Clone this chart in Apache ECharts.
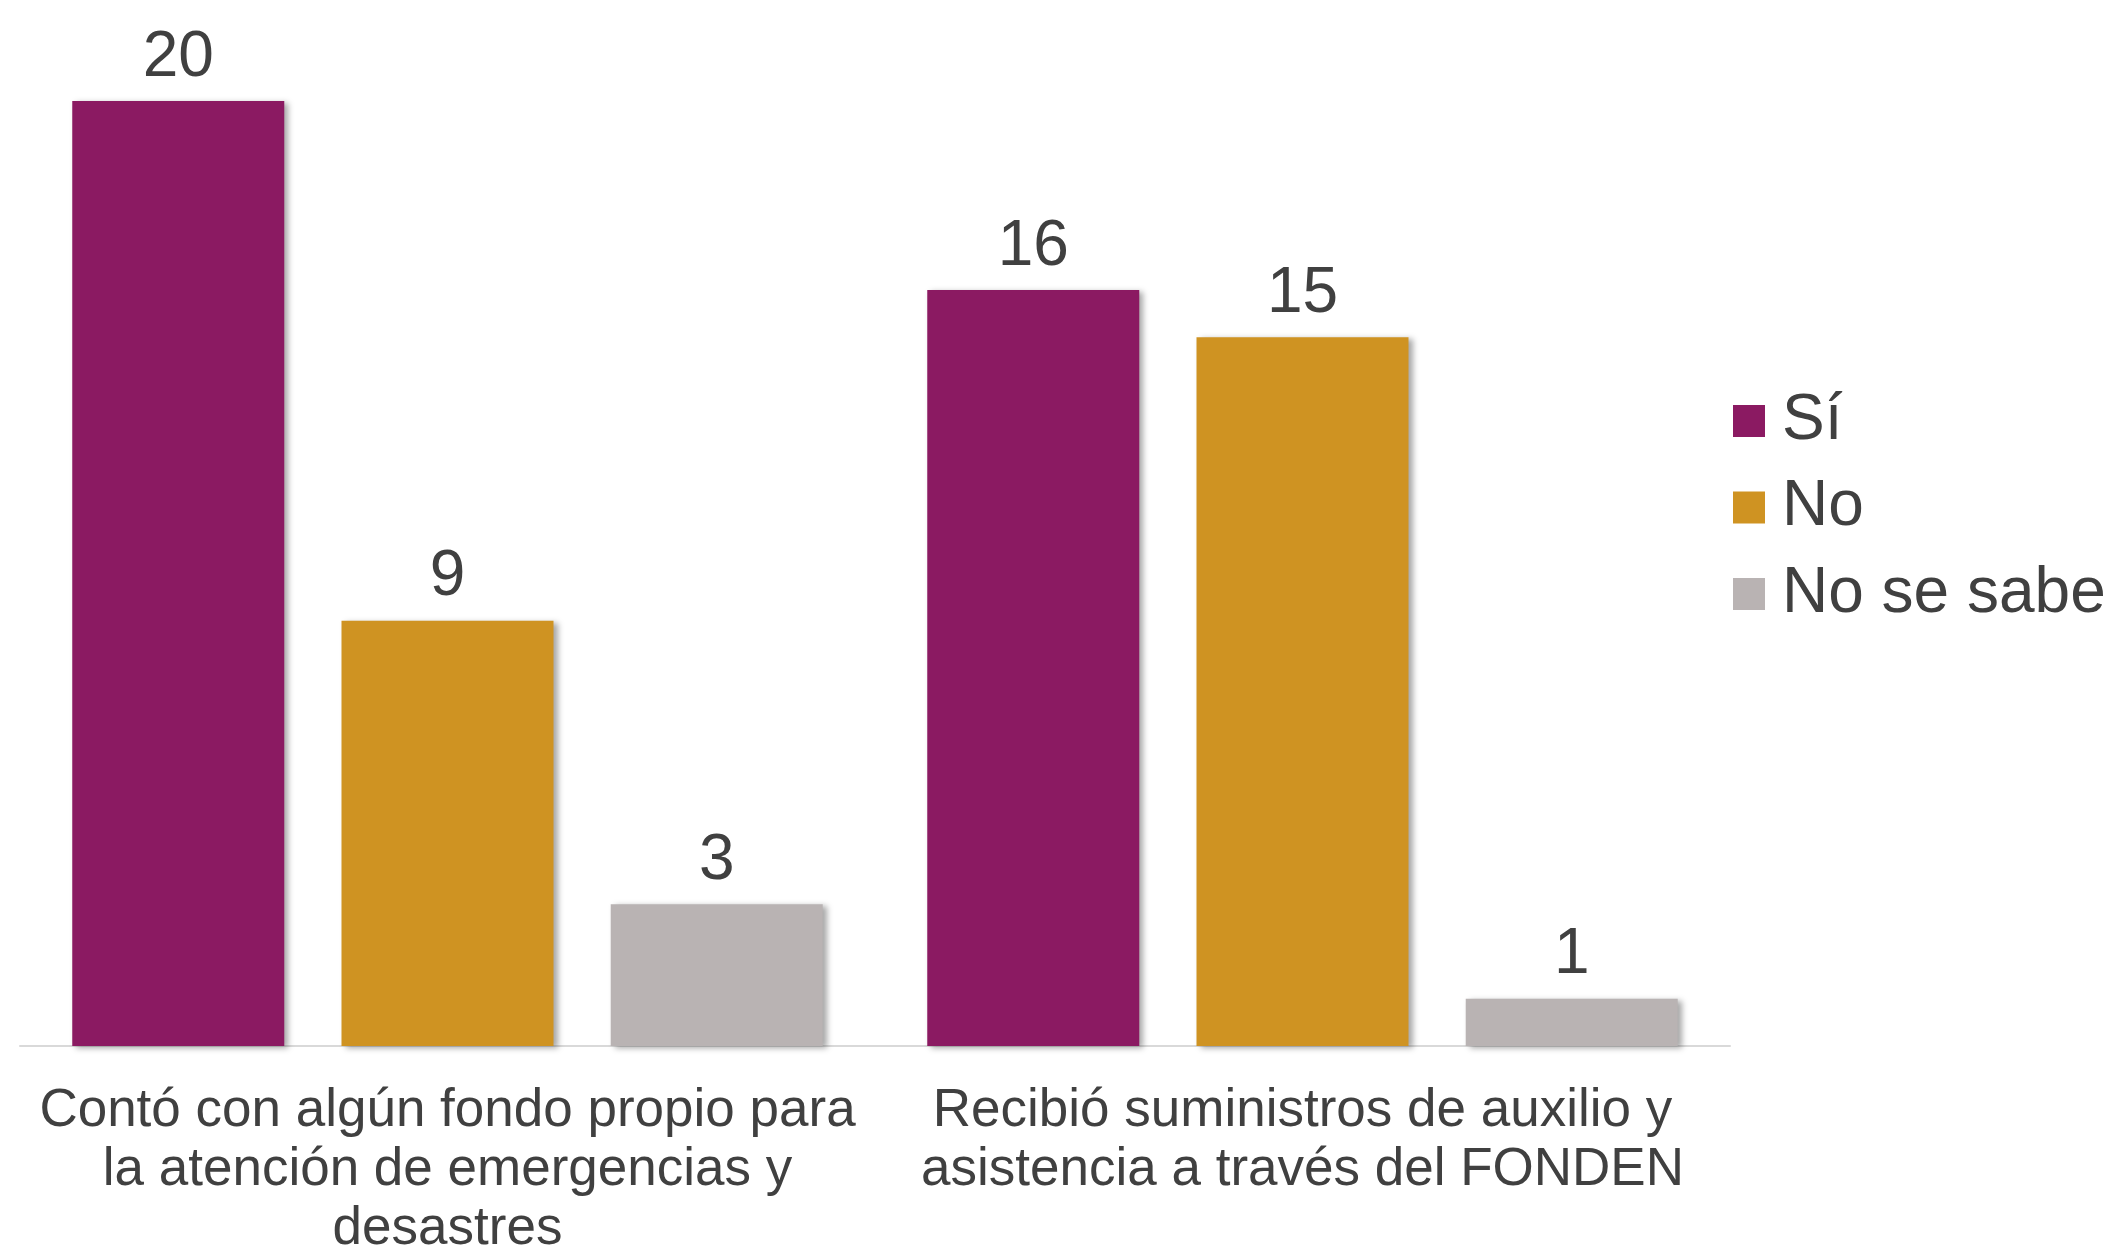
<!DOCTYPE html>
<html>
<head>
<meta charset="utf-8">
<script src="https://cdn.jsdelivr.net/npm/echarts@6/dist/echarts.min.js"></script>
<style>
html,body{margin:0;padding:0;background:#fff;}
#chart{width:2111px;height:1254px;}
</style>
</head>
<body>
<div id="chart"></div>
<script>
const categories = [
  "Contó con algún fondo propio para\nla atención de emergencias y\ndesastres",
  "Recibió suministros de auxilio y\nasistencia a través del FONDEN"
];
const seriesNames = ["Sí", "No", "No se sabe"];
const siValues = [20, 16];
const noValues = [9, 15];
const noSabeValues = [3, 1];
const colors = ["#8B1A62", "#CF9322", "#B9B3B3"];

const FONT = "'Liberation Sans', Arial, sans-serif";
const shadow = {shadowColor:'rgba(0,0,0,0.35)', shadowBlur:6, shadowOffsetX:4, shadowOffsetY:2};

function mk(name, data, color){
  return {
    name: name, type: 'bar', data: data, barWidth: 212, barGap: '27%',
    itemStyle: Object.assign({color: color}, shadow),
    label: {show:true, position:'top', distance:11, color:'#404040',
      fontFamily:FONT, fontSize:64, lineHeight:64},
    emphasis:{disabled:true}
  };
}

const chart = echarts.init(document.getElementById('chart'));
chart.setOption({
  animation:false,
  backgroundColor:'#ffffff',
  grid:{left:20, right:381, top:101, bottom:208, containLabel:false, outerBoundsMode:'none'},
  legend:{
    orient:'vertical', left:1728, top:384, itemWidth:32, itemHeight:32, itemGap:22.5,
    icon:'rect',
    textStyle:{color:'#404040', fontFamily:FONT, fontSize:64, lineHeight:64, padding:[0,0,0,12]},
    data: seriesNames
  },
  xAxis:{
    type:'category', data:categories,
    axisLine:{show:true, lineStyle:{color:'#d9d9d9', width:2}},
    axisTick:{show:false},
    axisLabel:{interval:0, color:'#404040', fontFamily:FONT, fontSize:53, lineHeight:59, margin:36}
  },
  yAxis:{type:'value', min:0, max:20, show:false, splitLine:{show:false}},
  series:[
    mk(seriesNames[0], siValues, colors[0]),
    mk(seriesNames[1], noValues, colors[1]),
    mk(seriesNames[2], noSabeValues, colors[2])
  ]
});
</script>
</body>
</html>
